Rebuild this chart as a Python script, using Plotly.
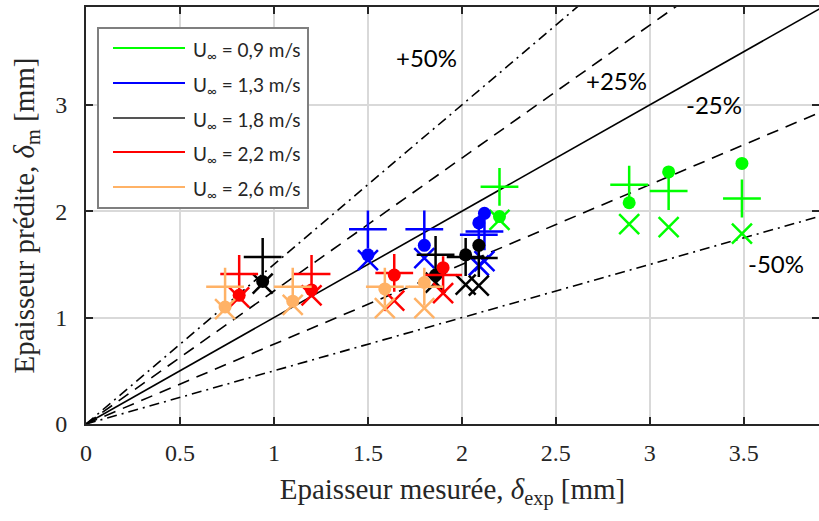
import plotly.graph_objects as go

# ---- data ----
speeds = ["0,9", "1,3", "1,8", "2,2", "2,6"]
marker_colors = ["#00FF00", "#0000FF", "#000000", "#FF0000", "#FFB266"]
legend_colors = ["#00FF00", "#0000FF", "#555555", "#FF0000", "#FFB266"]

x_exp = [
    [2.20, 2.89, 3.10, 3.49],
    [1.50, 1.80, 2.09, 2.12],
    [0.94, 1.86, 2.02, 2.09],
    [0.815, 1.20, 1.64, 1.90],
    [0.74, 1.10, 1.59, 1.80],
]
y_circle = [
    [1.95, 2.08, 2.37, 2.45],
    [1.59, 1.68, 1.89, 1.98],
    [1.34, 1.40, 1.59, 1.68],
    [1.21, 1.26, 1.40, 1.47],
    [1.10, 1.155, 1.27, 1.33],
]
y_plus = [
    [2.23, 2.25, 2.19, 2.12],
    [1.83, 1.83, 1.78, 1.81],
    [1.57, 1.59, 1.57, 1.56],
    [1.41, 1.41, 1.42, 1.40],
    [1.29, 1.29, 1.29, 1.29],
]
y_cross = [
    [1.92, 1.88, 1.85, 1.79],
    [1.54, 1.56, 1.49, 1.53],
    [1.32, 1.33, 1.31, 1.30],
    [1.19, 1.21, 1.16, 1.23],
    [1.08, 1.12, 1.09, 1.09],
]

ref_slopes = [1.5, 1.25, 1.0, 0.75, 0.5]
ref_dash = ["10px,5px,2px,5px", "12px,8px", "solid", "12px,8px", "10px,5px,2px,5px"]
ref_labels = ["+50%", "+25%", "-25%", "-50%"]
ref_label_x = [1.81, 2.82, 3.34, 3.67]
ref_label_y = [3.45, 3.23, 3.00, 1.51]

x_ticks = [0, 0.5, 1, 1.5, 2, 2.5, 3, 3.5]
x_tick_text = ["0", "0.5", "1", "1.5", "2", "2.5", "3", "3.5"]
y_ticks = [0, 1, 2, 3]
x_max, y_max = 3.9, 3.92

fig = go.Figure()

# reference lines
for s, d in zip(ref_slopes, ref_dash):
    fig.add_trace(go.Scatter(
        x=[0, 4.0], y=[0, 4.0 * s], mode="lines",
        line=dict(color="black", width=1.6, dash=d),
        showlegend=False, hoverinfo="skip", cliponaxis=True))

for i in range(len(speeds)):
    c = marker_colors[i]
    fig.add_trace(go.Scatter(x=x_exp[i], y=y_circle[i], mode="markers",
                             marker=dict(symbol="circle", size=13, color=c),
                             showlegend=False))
    fig.add_trace(go.Scatter(x=x_exp[i], y=y_plus[i], mode="markers",
                             marker=dict(symbol="cross-thin", size=27,
                                         line=dict(color=c, width=2.5)),
                             showlegend=False))
    fig.add_trace(go.Scatter(x=x_exp[i], y=y_cross[i], mode="markers",
                             marker=dict(symbol="x-thin", size=20,
                                         line=dict(color=c, width=2.5)),
                             showlegend=False))

# percentage labels
for t, lx, ly in zip(ref_labels, ref_label_x, ref_label_y):
    fig.add_annotation(x=lx, y=ly, text=t, showarrow=False,
                       font=dict(family="Lato, Open Sans, sans-serif", size=24, color="black"),
                       xanchor="center", yanchor="middle")

# custom legend (paper coordinates)
L, T, H = 86, 7, 417
W = 733
def px(xp):
    return (xp - L) / W
def py(yp):
    return (T + H - yp) / H

shapes = [dict(type="rect", xref="paper", yref="paper",
               x0=px(98), x1=px(308), y0=py(208), y1=py(28),
               line=dict(color="#7f7f7f", width=2), fillcolor="white", layer="above")]
annots = []
entry_y = [48, 83, 118, 152, 187]
for sp, lc, ey in zip(speeds, legend_colors, entry_y):
    shapes.append(dict(type="line", xref="paper", yref="paper",
                       x0=px(113), x1=px(185), y0=py(ey), y1=py(ey),
                       line=dict(color=lc, width=2), layer="above"))
    annots.append(dict(xref="paper", yref="paper", x=px(191), y=py(ey + 3),
                       text="U<sub>∞</sub> = " + sp + " m/s", showarrow=False,
                       xanchor="left", yanchor="middle",
                       font=dict(family="Lato, Open Sans, sans-serif", size=19, color="#262626")))
for a in annots:
    fig.add_annotation(**a)

axis_common = dict(
    showline=True, linecolor="#262626", linewidth=2, mirror="ticks",
    ticks="inside", ticklen=7, tickwidth=2, tickcolor="#262626",
    showgrid=True, gridcolor="#d9d9d9", gridwidth=2, zeroline=False,
    automargin=False,
    tickfont=dict(family="Liberation Serif, Times New Roman, serif", size=24, color="#262626"),
)

fig.update_layout(
    width=819, height=521,
    margin=dict(l=86, r=0, t=7, b=97),
    paper_bgcolor="white", plot_bgcolor="white",
    shapes=shapes,
    xaxis=dict(range=[0, x_max], tickvals=x_ticks, ticktext=x_tick_text,
               ticklabelstandoff=6,
               title=dict(text="Epaisseur mesurée, <i>δ</i><sub>exp</sub> [mm]",
                          font=dict(family="Liberation Serif, Times New Roman, serif", size=29, color="#262626"),
                          standoff=14),
               **axis_common),
    yaxis=dict(range=[0, y_max], tickvals=y_ticks, ticklabelstandoff=12,
               title=dict(text="Epaisseur prédite, <i>δ</i><sub>m</sub> [mm]",
                          font=dict(family="Liberation Serif, Times New Roman, serif", size=29, color="#262626"),
                          standoff=12),
               **axis_common),
    showlegend=False,
)

fig.write_html("out.html", config={"displayModeBar": False},
               post_script="document.body.style.margin='0';document.body.style.padding='0';")
